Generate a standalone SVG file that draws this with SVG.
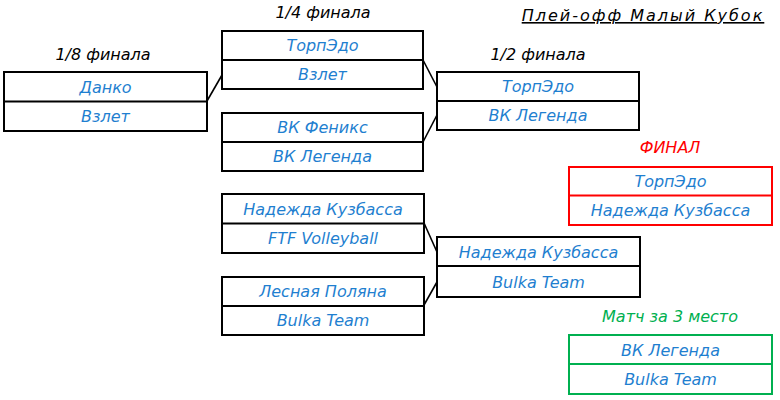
<svg xmlns="http://www.w3.org/2000/svg" width="780" height="400" viewBox="0 0 780 400">
<style>
text{font-family:"DejaVu Sans",sans-serif;font-style:italic;font-size:16px;text-anchor:middle}
.t{fill:#1f7fd0}
.h{fill:#000}
.box{fill:#fff;stroke:#000;stroke-width:2}
.red{stroke:#ff0000}
.grn{stroke:#00b050}
.conn{stroke:#000;stroke-width:1.6;fill:none}
</style>
<rect width="780" height="400" fill="#fff"/>
<g id="titles">
<text class="h" x="643" y="21" font-size="23" letter-spacing="2" text-decoration="underline">Плей-офф Малый Кубок</text>
<text class="h" x="103" y="60">1/8 финала</text>
<text class="h" x="323" y="18">1/4 финала</text>
<text class="h" x="538" y="60">1/2 финала</text>
<text x="670" y="153" fill="#ff0000">ФИНАЛ</text>
<text x="670" y="322" fill="#00b050">Матч за 3 место</text>
</g>
<g id="connectors">
<path class="conn" d="M207 101 L222 75"/>
<path class="conn" d="M423 60 L437 87"/>
<path class="conn" d="M423 142 L437 115"/>
<path class="conn" d="M424 223 L437 252"/>
<path class="conn" d="M424 305 L437 282"/>
</g>
<g id="r16">
<rect class="box" x="4" y="72" width="203" height="59"/><line class="box" x1="4" y1="101.5" x2="207" y2="101.5"/>
<text class="t" x="105.5" y="93">Данко</text><text class="t" x="105.5" y="122">Взлет</text>
</g>
<g id="qf1">
<rect class="box" x="222" y="31" width="201" height="58"/><line class="box" x1="222" y1="60" x2="423" y2="60"/>
<text class="t" x="322.5" y="51">ТорпЭдо</text><text class="t" x="322.5" y="80">Взлет</text>
</g>
<g id="qf2">
<rect class="box" x="222" y="113" width="201" height="58"/><line class="box" x1="222" y1="142" x2="423" y2="142"/>
<text class="t" x="322.5" y="133">ВК Феникс</text><text class="t" x="322.5" y="162">ВК Легенда</text>
</g>
<g id="qf3">
<rect class="box" x="222" y="194" width="202" height="59"/><line class="box" x1="222" y1="223.5" x2="424" y2="223.5"/>
<text class="t" x="323" y="215">Надежда Кузбасса</text><text class="t" x="323" y="244">FTF Volleyball</text>
</g>
<g id="qf4">
<rect class="box" x="222" y="277" width="202" height="58"/><line class="box" x1="222" y1="306" x2="424" y2="306"/>
<text class="t" x="323" y="297">Лесная Поляна</text><text class="t" x="323" y="326">Bulka Team</text>
</g>
<g id="sf1">
<rect class="box" x="437" y="72" width="202" height="58"/><line class="box" x1="437" y1="101" x2="639" y2="101"/>
<text class="t" x="538" y="92">ТорпЭдо</text><text class="t" x="538" y="121">ВК Легенда</text>
</g>
<g id="sf2">
<rect class="box" x="437" y="237" width="203" height="60"/><line class="box" x1="437" y1="266" x2="640" y2="266"/>
<text class="t" x="538.5" y="258">Надежда Кузбасса</text><text class="t" x="538.5" y="288">Bulka Team</text>
</g>
<g id="final">
<rect class="box red" x="569" y="167" width="203" height="58"/><line class="box red" x1="569" y1="195.5" x2="772" y2="195.5"/>
<text class="t" x="670.5" y="187">ТорпЭдо</text><text class="t" x="670.5" y="216">Надежда Кузбасса</text>
</g>
<g id="third">
<rect class="box grn" x="569" y="335" width="203" height="59"/><line class="box grn" x1="569" y1="364" x2="772" y2="364"/>
<text class="t" x="670.5" y="356">ВК Легенда</text><text class="t" x="670.5" y="385">Bulka Team</text>
</g>
</svg>
